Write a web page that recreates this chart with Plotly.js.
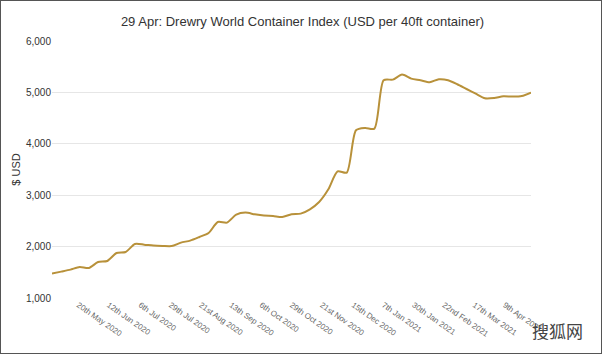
<!DOCTYPE html>
<html>
<head>
<meta charset="utf-8">
<script src="https://cdn.plot.ly/plotly-3.0.1.min.js"></script>
<style>
  html, body { margin: 0; padding: 0; background: #fff; }
  #chart { position: absolute; left: 0; top: 0; width: 605px; height: 357px; }
  #frame { position: absolute; left: 0; top: 0; width: 600px; height: 352px; border: 1.5px solid #555; pointer-events: none; }
</style>
</head>
<body>
<div id="chart"></div>
<div id="frame"></div>
<script>
// Weekly Drewry WCI composite (USD per 40ft)
const dates = [
  "2020-04-30","2020-05-07","2020-05-14","2020-05-21","2020-05-28","2020-06-04","2020-06-11","2020-06-18",
  "2020-06-25","2020-07-02","2020-07-09","2020-07-16","2020-07-23","2020-07-30","2020-08-06","2020-08-13",
  "2020-08-20","2020-08-27","2020-09-03","2020-09-10","2020-09-17","2020-09-24","2020-10-01","2020-10-08",
  "2020-10-15","2020-10-22","2020-10-29","2020-11-05","2020-11-12","2020-11-19","2020-11-26","2020-12-03",
  "2020-12-10","2020-12-17","2020-12-24","2020-12-31","2021-01-07","2021-01-14","2021-01-21","2021-01-28",
  "2021-02-04","2021-02-11","2021-02-18","2021-02-25","2021-03-04","2021-03-11","2021-03-18","2021-03-25",
  "2021-04-01","2021-04-08","2021-04-15","2021-04-22","2021-04-29"
];
const wci = [
  1475,1513,1552,1603,1584,1700,1720,1875,
  1895,2050,2038,2019,2012,2010,2078,2117,
  2187,2265,2479,2467,2622,2661,2628,2603,
  2595,2576,2630,2642,2726,2868,3115,3465,
  3440,4263,4307,4295,5237,5249,5346,5268,
  5237,5198,5256,5237,5159,5066,4976,4885,
  4891,4924,4918,4930,4996
];
const tickDates = [
  "2020-05-20","2020-06-12","2020-07-06","2020-07-29","2020-08-21","2020-09-13","2020-10-06","2020-10-29",
  "2020-11-21","2020-12-15","2021-01-07","2021-01-30","2021-02-22","2021-03-17","2021-04-09"
];
const tickLabels = [
  "20th May 2020","12th Jun 2020","6th Jul 2020","29th Jul 2020","21st Aug 2020","13th Sep 2020","6th Oct 2020","29th Oct 2020",
  "21st Nov 2020","15th Dec 2020","7th Jan 2021","30th Jan 2021","22nd Feb 2021","17th Mar 2021","9th Apr 2021"
];
const yTicks = [1000, 2000, 3000, 4000, 5000, 6000];

const trace = {
  x: dates, y: wci, type: "scatter", mode: "lines",
  line: { color: "#b8913a", width: 2, shape: "spline", smoothing: 0.7 },
  hoverinfo: "x+y"
};

const layout = {
  width: 605, height: 357,
  margin: { l: 52, r: 74, t: 41, b: 59 },
  paper_bgcolor: "#fff", plot_bgcolor: "#fff",
  font: { family: "Liberation Sans, Arial, sans-serif", color: "#333" },
  title: {
    text: "29 Apr: Drewry World Container Index (USD per 40ft container)",
    font: { size: 13, color: "#333" },
    x: 0.5, xanchor: "center", y: 0.94, yanchor: "middle"
  },
  xaxis: {
    type: "date",
    range: ["2020-04-30", "2021-04-29"],
    tickvals: tickDates, ticktext: tickLabels,
    tickangle: 35,
    tickfont: { size: 8, color: "#666" },
    showgrid: false, zeroline: false, showline: false, ticks: "",
    automargin: false
  },
  yaxis: {
    range: [1000, 6000],
    tickvals: yTicks, tickformat: ",d",
    tickfont: { size: 10, color: "#333" },
    gridcolor: "#e6e6e6", gridwidth: 1,
    zeroline: false, showline: false, ticks: "",
    automargin: false,
    title: { text: "$ USD", font: { size: 11, color: "#333" }, standoff: 3 }
  },
  annotations: [
    { text: "搜狐网", xref: "paper", yref: "paper", x: 1.113, y: -0.125, xanchor: "right", yanchor: "middle",
      showarrow: false, font: { family: "Noto Sans CJK SC", size: 17, color: "#444" } }
  ],
  showlegend: false
};

Plotly.newPlot("chart", [trace], layout, { displayModeBar: false, staticPlot: true });
</script>
</body>
</html>
